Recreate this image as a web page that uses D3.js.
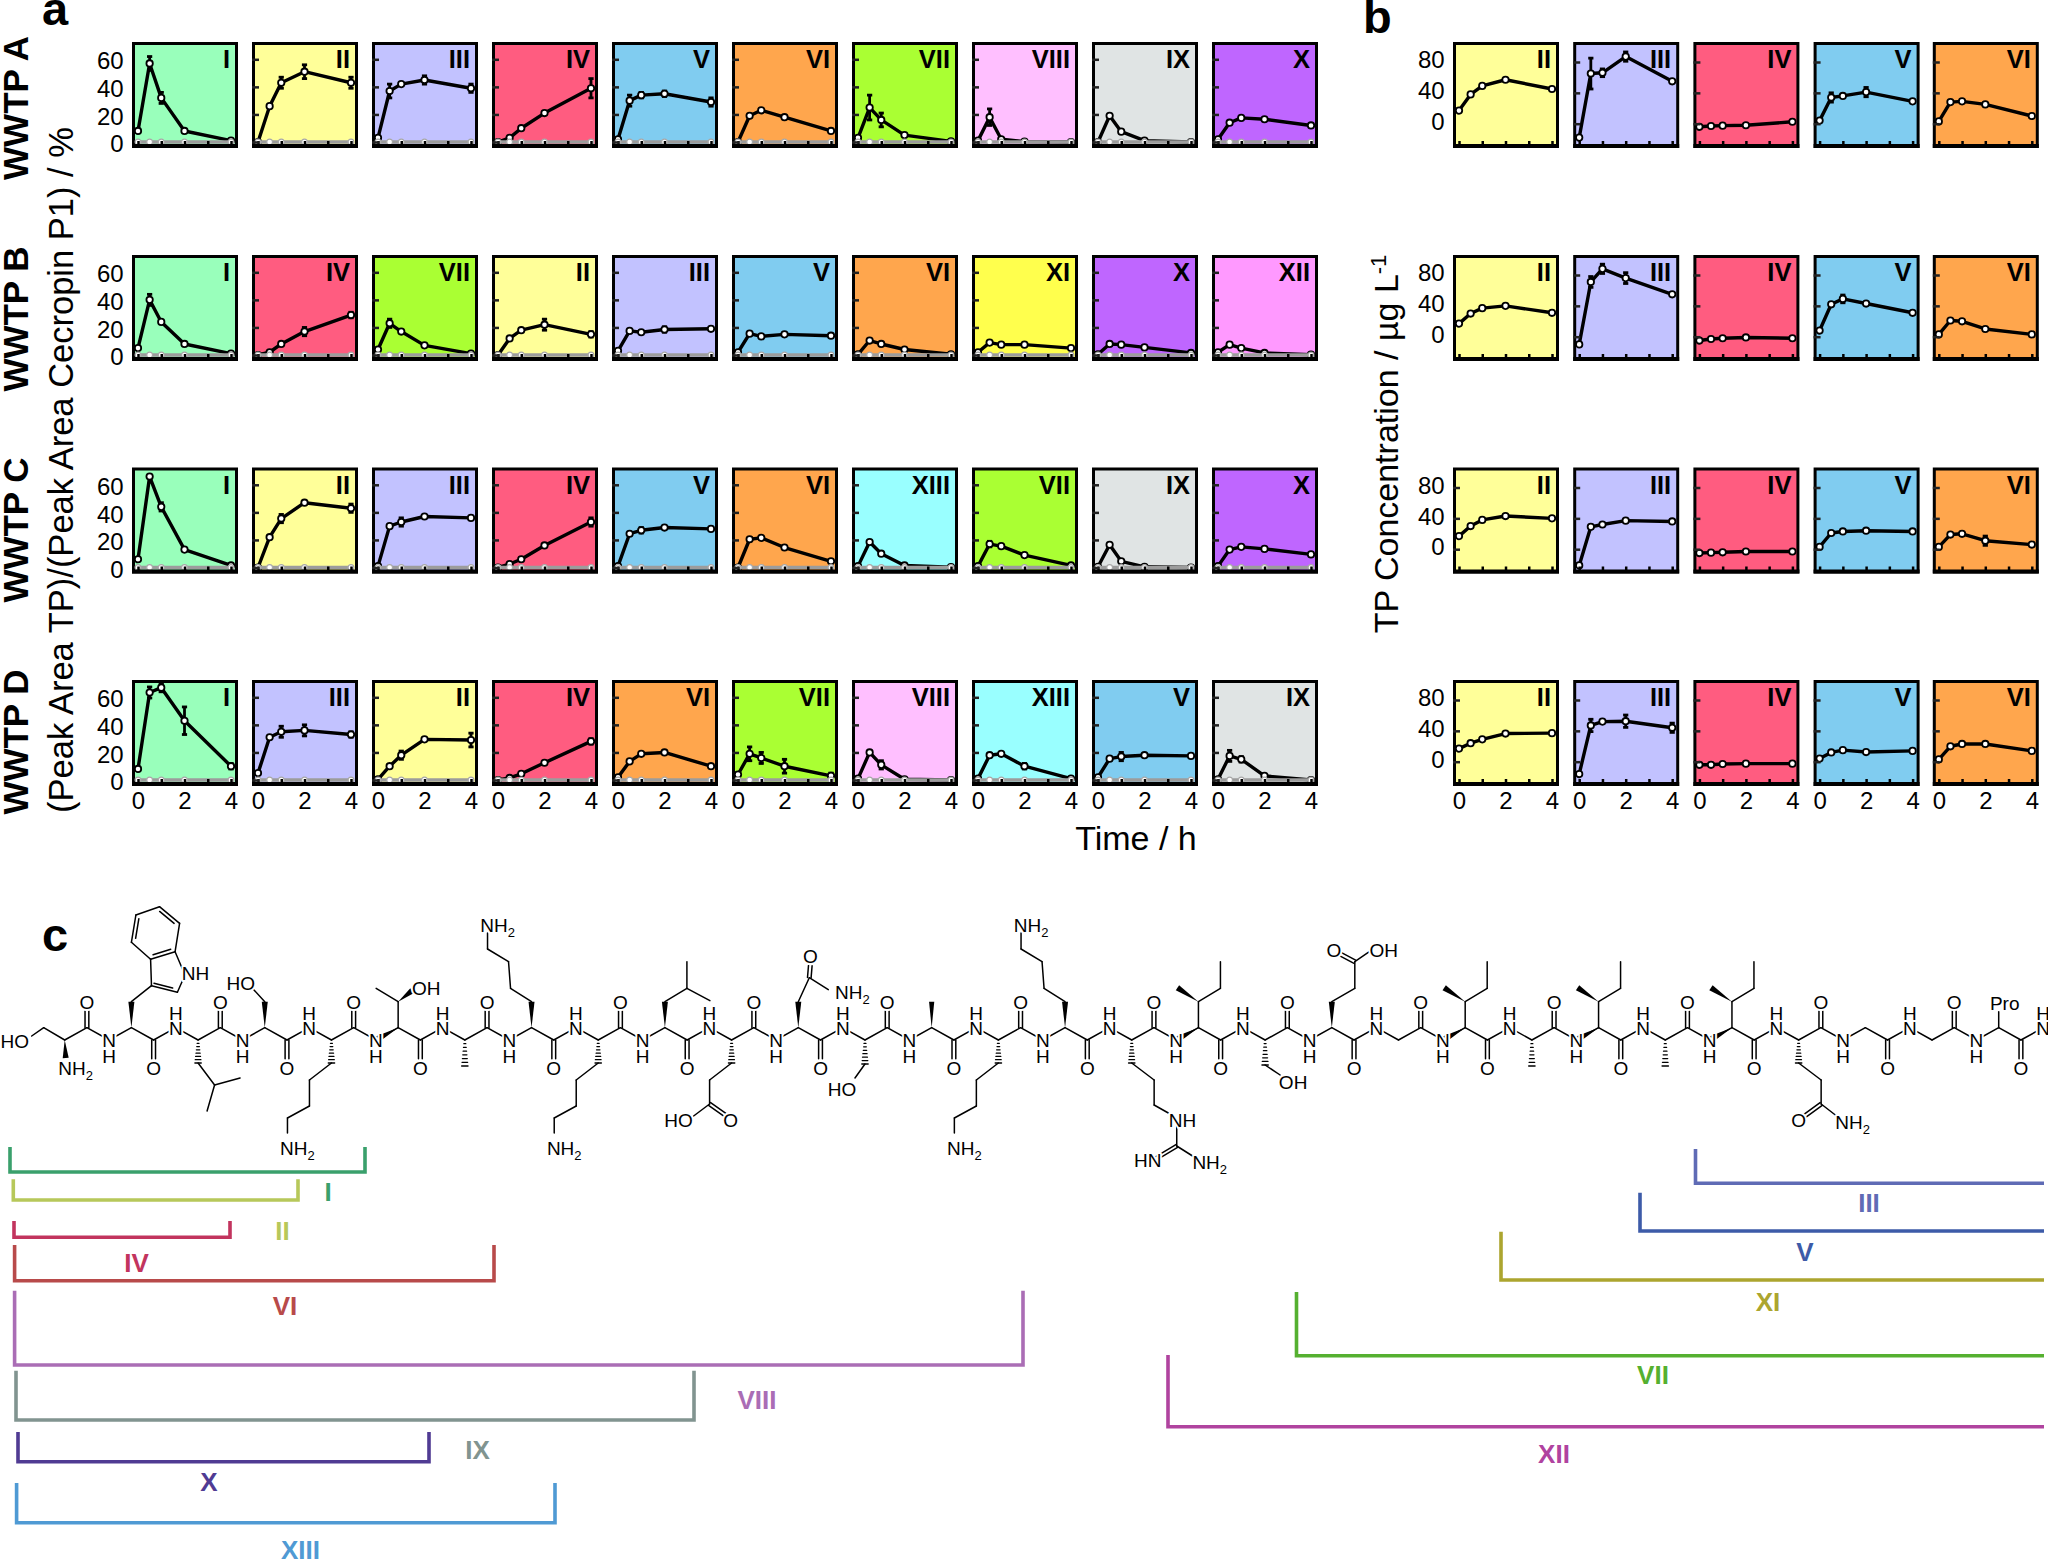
<!DOCTYPE html>
<html><head><meta charset="utf-8">
<script src="https://cdn.jsdelivr.net/npm/d3@7/dist/d3.min.js"></script>
<style>
html,body{margin:0;padding:0;background:#fff}
svg{display:block}
text{font-family:"Liberation Sans",Arial,sans-serif;fill:#000}
.halo{paint-order:stroke;stroke:#fff;stroke-width:4px;stroke-linejoin:round}
</style></head><body>
<script>
// ---------- data ----------
const timesH = [0, 0.5, 1, 2, 4];
const controlValues = [0, 0, 0, 0, 0];
const rowNames = ["WWTP A", "WWTP B", "WWTP C", "WWTP D"];

const rowA_tp = ["I","II","III","IV","V","VI","VII","VIII","IX","X"];
const rowA_val = [[8,57,32,8,1],[0,26,43,51,43],[3,37,42,45,39],[0,3,10,21,39],[2,30,34,35,29],[0,19,23,18,8],[3,25,16,5,0.5],[1,18,2,0.3,0],[0,19,7.5,1,0],[2,14,17.5,16.5,12]];
const rowA_err = [[1,5,4,1,0],[0,1,4,5,4],[0,5,1,3,3],[0,1,1,1,7],[0,4,2,2,3],[0,1,1,1,1],[0,9,5,1,0],[0,6,1,0,0],[0,1,1,0,0],[0,1,1,1,1]];

const rowB_tp = ["I","IV","VII","II","III","V","VI","XI","X","XII"];
const rowB_val = [[5,40,24,8,1],[0,2,8,17,29],[4,23,17,7,1],[0,12,18,22,15],[3,17.5,16.5,18.5,19],[2,15.5,13.5,15,14],[0.5,10.5,8,4,0.5],[2,9,7.5,7.5,5],[0.5,8,7.5,5.5,1.5],[2,7.5,5,1.5,0.2]];
const rowB_err = [[1,4,1,1,0],[0,1,1,3,2],[1,3,1,1,0],[0,1,1,4,2],[0,1,1,2,1],[0,1,1,1,1],[0,1,1,1,0],[0,1,1,1,1],[0,1,1,1,0],[0,1,0,0,0]];

const rowC_tp = ["I","II","III","IV","V","VI","XIII","VII","IX","X"];
const rowC_val = [[6,66,44,13,1.5],[0,22,35.5,47,43],[1,30,33,37,36],[0,2.5,6,16,33],[1,24.5,27,29,28],[0,20.5,21.5,14.5,4.5],[1,18.5,10,1.5,0.2],[1,17,15.5,9,1.5],[0.5,16.5,4.5,0.5,0],[1,13,15,13.5,9.5]];
const rowC_err = [[1,1,3,1,0],[0,1,3,1,3],[0,1,3,1,1],[0,1,1,1,3],[0,1,2,1,1],[0,1,1,1,1],[0,1,1,0,0],[0,2,1,1,0],[0,1,1,0,0],[0,1,1,1,1]];

const rowD_tp = ["I","III","II","IV","VI","VII","VIII","XIII","V","IX"];
const rowD_val = [[8,63.5,67,43,10],[5,31,35,36,33],[0.5,10,18,29.5,29],[0,1.5,4.5,12.5,28],[2,13.5,19,20,10],[4,19,16,10,3],[1,20,11,0.5,0],[1,18,19,10,1],[2,15.5,17,18,17.5],[0.5,17.5,15,3,0]];
const rowD_err = [[1,4,3,10,2],[1,1,4,4,2],[0,1,3,1,5],[0,0,1,1,2],[0,1,1,1,1],[1,5,4,5,2],[0,1,3,0,0],[0,1,1,2,0],[0,1,3,1,1],[0,4,2,1,0]];

const concTP = ["II","III","IV","V","VI"];
const concA_val = [[17,38,49,57,45],[-18,65,66,87,55],[-4,-3,-2.5,-2,2.5],[4,34,36,41,29],[3,28,29,25,10]];
const concA_err = [[1,1,1,1,1],[0,20,5,6,2],[1,1,1,1,1],[0,6,2,6,1],[0,1,1,1,1]];
const concB_val = [[17,30,37,40,31],[-10,71,88,76,55],[-5,-3,-2,-1,-2],[8,42,49,43,31],[3,21,20,10,3]];
const concB_err = [[1,1,1,1,1],[0,7,6,7,1],[1,1,1,1,1],[0,2,5,1,1],[0,1,1,1,1]];
const concC_val = [[17,30,38,43,40],[-21,29,32,37,36],[-5,-4.5,-4,-3,-3],[3,21,23,24,23],[3,19,20,11,6]];
const concC_err = [[1,1,1,1,1],[0,2,1,1,1],[1,1,1,1,1],[0,1,1,1,1],[0,1,1,6,1]];
const concD_val = [[17,24,29,36.5,37],[-16,47,52,52.5,44],[-4,-4,-3,-2.5,-2.5],[4,12,15,12.5,14],[3,20,23,23,14]];
const concD_err = [[1,1,1,1,1],[0,8,2,8,6],[1,1,1,1,1],[0,1,1,1,1],[0,1,1,1,1]];

const peptideSequence = "SWLSKTAKKLENSAKKRISEGIAIAIQGGP";

// ---------- styling ----------
const tpColour = {I:"#99ffbb",II:"#ffff99",III:"#c2c2ff",IV:"#ff5c80",V:"#80ccf0",VI:"#ffa64d",VII:"#aaff33",VIII:"#ffbfff",IX:"#e0e4e4",X:"#bf66ff",XI:"#ffff4d",XII:"#ff99ff",XIII:"#99ffff"};
const svg = d3.select("body").append("svg").attr("width",2048).attr("height",1566).attr("viewBox","0 0 2048 1566");
const rowTop = [42, 255, 467.5, 680];
const panelSize = 106;
const xScale = d3.scaleLinear().domain([0,4]).range([6,99]);
const yScaleA = d3.scaleLinear().domain([0,60]).range([100,17.3]);
const yScaleB = d3.scaleLinear().domain([0,80]).range([81.7,20]);

function panel(px, py, tp, vals, errs, yScale, yTicks, opts){
  const g = svg.append("g").attr("transform",`translate(${px},${py})`);
  g.append("rect").attr("x",1.5).attr("y",1.5).attr("width",panelSize-3).attr("height",panelSize-3)
    .attr("fill",tpColour[tp]).attr("stroke","#000").attr("stroke-width",3);
  const rows = timesH.map((t,i)=>({t,v:vals[i],e:errs[i]}));
  const line = d3.line().x(d=>xScale(d.t)).y(d=>yScale(d.v));
  // errors
  const eg = g.append("g").attr("stroke","#000").attr("stroke-width",2.8);
  rows.filter(d=>d.e>0).forEach(d=>{
    const x=xScale(d.t), a=yScale(d.v-d.e), b=yScale(d.v+d.e);
    eg.append("line").attr("x1",x).attr("x2",x).attr("y1",a).attr("y2",b);
    eg.append("line").attr("x1",x-2.6).attr("x2",x+2.6).attr("y1",a).attr("y2",a);
    eg.append("line").attr("x1",x-2.6).attr("x2",x+2.6).attr("y1",b).attr("y2",b);
  });
  g.append("path").datum(rows).attr("d",line).attr("fill","none").attr("stroke","#000").attr("stroke-width",3.4).attr("stroke-linejoin","round");
  g.selectAll(".pt").data(rows).join("circle").attr("cx",d=>xScale(d.t)).attr("cy",d=>yScale(d.v)).attr("r",3.2)
    .attr("fill","#fff").attr("stroke","#000").attr("stroke-width",1.8);
  if(opts.control){
    const c = timesH.map((t,i)=>({t,v:controlValues[i]}));
    g.append("path").datum(c).attr("d",line).attr("fill","none").attr("stroke","#9c9c9c").attr("stroke-width",3.6);
    g.selectAll(".ctl").data(c).join("circle").attr("cx",d=>xScale(d.t)).attr("cy",d=>yScale(d.v)).attr("r",2.9)
      .attr("fill","#fff").attr("stroke","#a8a8a8").attr("stroke-width",1.2);
  }
  // axes
  const ax = d3.axisBottom(xScale).tickValues([0,1,2,3,4]).tickSizeInner(-5).tickSizeOuter(0).tickPadding(8)
    .tickFormat(d=>(opts.xLabels && d%2===0)?d:"");
  const axG = g.append("g").attr("transform",`translate(0,${panelSize-2})`).call(ax);
  axG.select(".domain").attr("stroke","#000").attr("stroke-width",4).attr("d",`M0,0H${panelSize}`);
  axG.selectAll("line").attr("stroke","#000").attr("stroke-width",2.5);
  axG.selectAll("text").filter(function(){return this.textContent==="";}).remove();
  axG.selectAll("text").style("font-size","24px").style("font-family",'"Liberation Sans"').attr("fill","#000");
  const ay = d3.axisLeft(yScale).tickValues(yTicks).tickSizeInner(opts.yTickMarks?-7:0).tickSizeOuter(0).tickPadding(8.4)
    .tickFormat(d=>opts.yLabels?d:"");
  const ayG = g.append("g").call(ay);
  ayG.select(".domain").remove();
  ayG.selectAll("line").attr("stroke","#222").attr("stroke-width",2.5);
  ayG.selectAll("text").filter(function(){return this.textContent==="";}).remove();
  ayG.selectAll("text").attr("y",opts.labelShift).style("font-size","24px").style("font-family",'"Liberation Sans"').attr("fill","#000");
  g.append("text").attr("x",panelSize-8).attr("y",26).attr("text-anchor","end")
    .style("font-size","25.5px").style("font-weight","bold").text(tp);
}

const stepA = 120, stepB = 120.2;
[[rowA_tp,rowA_val,rowA_err],[rowB_tp,rowB_val,rowB_err],[rowC_tp,rowC_val,rowC_err],[rowD_tp,rowD_val,rowD_err]].forEach((r,ri)=>{
  r[0].forEach((tp,ci)=>panel(132+stepA*ci,rowTop[ri],tp,r[1][ci],r[2][ci],yScaleA,[0,20,40,60],
    {control:true,xLabels:ri===3,yLabels:ci===0,yTickMarks:ci>0,labelShift:2}));
});
[[concA_val,concA_err],[concB_val,concB_err],[concC_val,concC_err],[concD_val,concD_err]].forEach((r,ri)=>{
  concTP.forEach((tp,ci)=>panel(1453+stepB*ci-(ci===4?1:0),rowTop[ri],tp,r[0][ci],r[1][ci],yScaleB,[0,40,80],
    {control:false,xLabels:ri===3,yLabels:ci===0,yTickMarks:ci>0||ri>=2,labelShift:-2}));
});

// ---------- titles ----------
function vtext(x,y,s,size,weight){
  return svg.append("text").attr("transform",`translate(${x},${y}) rotate(-90)`).attr("text-anchor","middle")
    .style("font-size",size+"px").style("font-weight",weight||"normal").text(s);
}
const rowLabelY = [108,319,530,742];
rowNames.forEach((n,i)=>vtext(28,rowLabelY[i],n,35,"bold"));
vtext(73,470,"(Peak Area TP)/(Peak Area Cecropin P1) / %",34.5);
const tpTitle = vtext(1398,444,"",34);
tpTitle.append("tspan").text("TP Concentration / µg L");
tpTitle.append("tspan").attr("dy",-12).style("font-size","22px").text("-1");
svg.append("text").attr("x",1136).attr("y",850).attr("text-anchor","middle").style("font-size","34px").text("Time / h");
[["a",42,25],["b",1363,33],["c",42,951]].forEach(d=>svg.append("text").attr("x",d[1]).attr("y",d[2]).style("font-size","47px").style("font-weight","bold").text(d[0]));

// ---------- panel c: structure ----------
const chem = svg.append("g");
const bonds = chem.append("g").attr("stroke","#000").attr("stroke-width",1.5).attr("stroke-linecap","round").attr("fill","none");
const wedges = chem.append("g");
const labels = chem.append("g");
function bond(a,b){bonds.append("line").attr("x1",a[0]).attr("y1",a[1]).attr("x2",b[0]).attr("y2",b[1]);}
function poly(pts){for(let i=1;i<pts.length;i++)bond(pts[i-1],pts[i]);}
function wedge(a,b,w){
  const dx=b[0]-a[0],dy=b[1]-a[1],l=Math.hypot(dx,dy),nx=-dy/l*(w||3),ny=dx/l*(w||3);
  wedges.append("path").attr("d",`M${a[0]},${a[1]}L${b[0]+nx},${b[1]+ny}L${b[0]-nx},${b[1]-ny}Z`).attr("fill","#000");
}
function hash(a,b){
  const n=7;
  for(let i=1;i<=n;i++){
    const t=i/n,x=a[0]+(b[0]-a[0])*t,y=a[1]+(b[1]-a[1])*t,w=0.6+2.6*t;
    bonds.append("line").attr("x1",x-w).attr("x2",x+w).attr("y1",y).attr("y2",y).attr("stroke-width",1.3);
  }
}
function label(p,s){
  const t=labels.append("text").attr("class","halo").attr("x",p[0]).attr("y",p[1]).attr("dy","0.36em").attr("text-anchor","middle").style("font-size","19px");
  const m=s.match(/^(.*?)2$/);
  if(m){t.append("tspan").text(m[1]);t.append("tspan").attr("dy",5).style("font-size","13px").text("2");}
  else t.text(s);
}
function dbl(a,b,off){
  const dx=b[0]-a[0],dy=b[1]-a[1],l=Math.hypot(dx,dy),nx=-dy/l*off,ny=dx/l*off;
  bond([a[0]+nx,a[1]+ny],[b[0]+nx,b[1]+ny]);bond([a[0]-nx,a[1]-ny],[b[0]-nx,b[1]-ny]);
}
function inner(a,b,c){
  const m=[(a[0]+b[0])/2,(a[1]+b[1])/2],dx=c[0]-m[0],dy=c[1]-m[1],l=Math.hypot(dx,dy),s=3.6/l;
  const sx=dx*s,sy=dy*s;
  bond([a[0]+(b[0]-a[0])*.14+sx,a[1]+(b[1]-a[1])*.14+sy],[a[0]+(b[0]-a[0])*.86+sx,a[1]+(b[1]-a[1])*.86+sy]);
}
const K0=64.7, KS=22.23, YL=1040, YH=1027.7;
const bk = k=>[K0+KS*k,(k%2===0)?YL:YH];
const nAtoms = peptideSequence.length*3;
for(let k=0;k<nAtoms-1;k++) bond(bk(k),bk(k+1));
bond(bk(nAtoms-1),[2056,1040]);
peptideSequence.split("").forEach((aa,i)=>{
  const cK=3*i+1,c=bk(cK),up=(i%2===0);
  const oy=up?c[1]-26:c[1]+27.7;
  dbl(c,[c[0],up?oy+9:oy-9],1.9);
  label([c[0],oy],"O");
  const n=bk(cK+1);
  label(n,"N");
  label([n[0],up?n[1]+16:n[1]-15],"H");
});
const rel=(c,o)=>[c[0]+o[0],c[1]+o[1]];
const templates={
  ser1(c){poly([c,rel(c,[-21,-12.3]),rel(c,[-33,-4])]);label(rel(c,[-50,1]),"HO");wedge(c,rel(c,[1,18]));label(rel(c,[11,28]),"NH2");},
  trp(c){
    const r=o=>rel(c,o);
    const C3=r([20.1,-42]),C2=r([46,-35.4]),N=r([53.6,-52.7]),C7a=r([43.7,-76]),C3a=r([19.2,-68.4]),C4=r([0,-85.4]),C5=r([4.5,-112.7]),C6=r([28.1,-121]),C7=r([48.2,-104.4]);
    wedge(c,r([0,-26]));poly([r([0,-26]),C3,C2,N,C7a,C3a,C3]);poly([C3a,C4,C5,C6,C7,C7a]);
    const cf=r([26,-60]),cb=r([24,-100]);
    inner(C3,C2,cf);inner(C3a,C7a,cb);inner(C4,C5,cb);inner(C6,C7,cb);
    label(r([64,-55]),"NH");
  },
  leuD(c){const r=o=>rel(c,o);hash(c,r([0,23]));poly([r([0,23]),r([16.5,45]),r([42,38])]);bond(r([16.5,45]),r([9,71]));},
  leuU(c){const r=o=>rel(c,o);wedge(c,r([0,-26]));poly([r([0,-26]),r([22,-39.4]),r([22,-66])]);bond(r([22,-39.4]),r([45,-27]));},
  serU(c){const r=o=>rel(c,o);wedge(c,r([0,-26]));poly([r([0,-26]),r([-11,-38])]);label(r([-24,-45]),"HO");},
  serDL(c){const r=o=>rel(c,o);hash(c,r([0,24]));poly([r([0,24]),r([-10,38])]);label(r([-23,49]),"HO");},
  serDR(c){const r=o=>rel(c,o);hash(c,r([0,25]));poly([r([0,25]),r([15,35])]);label(r([28,42]),"OH");},
  lysD(c){const r=o=>rel(c,o);hash(c,r([0,23]));poly([r([0,23]),r([-22,40]),r([-22,66]),r([-44,78]),r([-44,93])]);label(r([-34,108]),"NH2");},
  lysU(c){const r=o=>rel(c,o);wedge(c,r([0,-26]));poly([r([0,-26]),r([-21,-39.4]),r([-23,-66]),r([-44,-78.7]),r([-44,-94.7])]);label(r([-34,-102.7]),"NH2");},
  thr(c){const r=o=>rel(c,o);wedge(c,r([-22.2,12.3]),3.5);bond(c,r([0,-26]));wedge(r([0,-26]),r([14,-37]));bond(r([0,-26]),r([-22,-39.4]));label(r([28,-40]),"OH");},
  ile(c){const r=o=>rel(c,o);wedge(c,r([-22.2,12.3]),3.5);bond(c,r([0,-26]));wedge(r([0,-26]),r([-21,-40]));poly([r([0,-26]),r([22,-39.4]),r([22,-66])]);},
  alaD(c){hash(c,rel(c,[0,26]));},
  alaU(c){wedge(c,rel(c,[0,-26]),2.6);},
  gluD(c){const r=o=>rel(c,o);hash(c,r([0,23]));poly([r([0,23]),r([-22,40]),r([-22,64]),r([-38,76])]);dbl(r([-22,64]),r([-5,76]),1.8);label(r([-1,80]),"O");label(r([-53,80]),"HO");},
  gluU(c){const r=o=>rel(c,o);wedge(c,r([0,-26]));poly([r([0,-26]),r([23,-39.4]),r([23,-66]),r([39,-77])]);dbl(r([23,-66]),r([6,-75]),1.8);label(r([2,-78]),"O");label(r([52,-78]),"OH");},
  asn(c){const r=o=>rel(c,o);wedge(c,r([0,-26]));poly([r([0,-26]),r([11,-50]),r([30,-38])]);dbl(r([11,-50]),r([12,-62]),1.8);label(r([12,-72]),"O");label(r([54,-36]),"NH2");},
  gln(c){const r=o=>rel(c,o);hash(c,r([0,23]));poly([r([0,23]),r([22.5,40]),r([22.5,64]),r([38,76])]);dbl(r([22.5,64]),r([6,76]),1.8);label(r([0,80]),"O");label(r([54,82]),"NH2");},
  arg(c){const r=o=>rel(c,o);hash(c,r([0,23]));poly([r([0,23]),r([22.4,40]),r([22.4,65]),r([36.6,73])]);label(r([50.7,80]),"NH");
    const C=r([45,106]);bond(r([45,84]),C);dbl(C,r([25,118]),1.6);bond(C,r([64,118]));label(r([16,120]),"HN");label(r([78,122]),"NH2");},
  pro(c){const r=o=>rel(c,o);bond(c,r([0,-16]));label(r([6,-25]),"Pro");},
  gly(){}
};
const residueChain = ["ser1","trp","leuD","serU","lysD","thr","alaD","lysU","lysD","leuU","gluD","asn","serDL","alaU","lysD","lysU","arg","ile","serDR","gluU","gly","ile","alaD","ile","alaD","ile","gln","gly","gly","pro"];
residueChain.forEach((name,i)=>templates[name](bk(3*i)));

// ---------- fragment brackets ----------
const fragNames = ["I","II","IV","VI","VIII","IX","X","XIII","III","V","XI","VII","XII"];
const fragStart = [10,13.3,14,14.6,14.6,16,18,16.6,1695.5,1640,1501,1296.5,1168];
const fragEnd   = [365,298,230,494,1023,694,429,555,2044,2044,2044,2044,2044];
const fragTop   = [1147,1179.3,1221,1245,1290.7,1370.7,1432,1483,1149,1192.7,1231.7,1292,1355];
const fragBase  = [1172,1200,1237.3,1280.7,1365,1420,1461.7,1522.7,1183.3,1231,1280,1355.7,1426.7];
const fragLabelX = [328,282.5,136.6,285,757,477.5,209,300.5,1869,1805,1768,1653,1554];
const fragLabelY = [1201,1240,1272,1314.5,1408.5,1458.5,1491,1559,1212,1261,1311,1384,1462.5];
const fragColour = ["#3aa06c","#b7c85a","#c2345e","#b84a4a","#aa6db5","#819490","#503b93","#4f9ad4","#5f6bb5","#3d5ba8","#aca52f","#55b030","#b0439f"];
fragNames.forEach((n,i)=>{
  const open=fragEnd[i]>=2044;
  const d=`M${fragStart[i]},${fragTop[i]}V${fragBase[i]}H${fragEnd[i]}`+(open?"":`V${fragTop[i]}`);
  svg.append("path").attr("d",d).attr("fill","none").attr("stroke",fragColour[i]).attr("stroke-width",3.6);
  svg.append("text").attr("x",fragLabelX[i]).attr("y",fragLabelY[i]).attr("text-anchor","middle")
    .style("font-size","26px").style("font-weight","bold").style("fill",fragColour[i]).text(n);
});
</script>
</body></html>
